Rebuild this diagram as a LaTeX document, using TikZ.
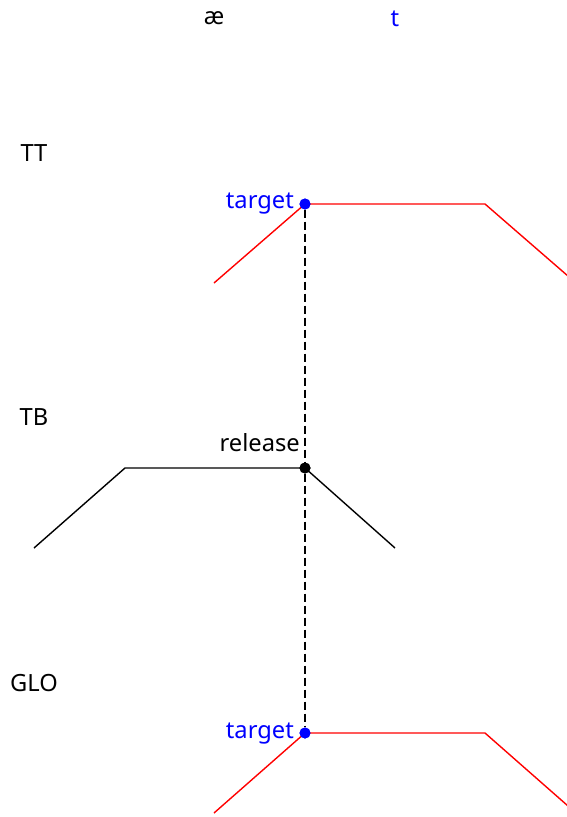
\documentclass[tikz,border=0pt]{standalone}
\usepackage{fontspec}
\setmainfont{Noto Sans}
\begin{document}
\begin{tikzpicture}[x=1pt,y=-1pt,
  lbl/.style={font=\fontsize{23.7}{28}\selectfont, inner sep=0pt},
  redline/.style={red, line width=1.4pt},
  blkline/.style={black, line width=1.4pt},
  dotb/.style={circle, fill=blue, inner sep=0pt, minimum size=11pt},
  dotk/.style={circle, fill=black, inner sep=0pt, minimum size=11pt}]
\useasboundingbox (0,0) rectangle (567,817);
\clip (0,0) rectangle (567,817);
\node[lbl] (ae) at (214,18) {æ};
\node[lbl, text=blue] (tt) at (395,19) {t};
\node[lbl] (TT) at (34,153) {TT};
\node[lbl] (TB) at (34,417) {TB};
\node[lbl] (GLO) at (34,683) {GLO};
% top
\coordinate (a1) at (214,283);
\coordinate (a3) at (485,204);
\coordinate (a4) at (576,283);
\node[dotb] (d1) at (305,204) {};
\draw[redline] (a1) -- (d1.center) -- (a3) -- (a4);
\node[lbl, text=blue, anchor=east] (t1) at (294,204) {target};
% middle
\coordinate (b1) at (34,548);
\coordinate (b2) at (125,468);
\coordinate (b4) at (395,548);
\node[dotk] (d2) at (305,468) {};
\draw[blkline] (b1) -- (b2) -- (d2.center) -- (b4);
\node[lbl, anchor=east] (rel) at (300,443) {release};
% bottom
\coordinate (c1) at (214,813);
\coordinate (c3) at (485,733);
\coordinate (c4) at (576,813);
\node[dotb] (d3) at (305,733) {};
\draw[redline] (c1) -- (d3.center) -- (c3) -- (c4);
\node[lbl, text=blue, anchor=east] (t3) at (294,734) {target};
% dashed
\draw[dash pattern=on 8pt off 4pt, line width=1.3pt] (d1) -- (d2) -- (d3);
\node[dotb] at (305,204) {};
\node[dotk] at (305,468) {};
\node[dotb] at (305,733) {};
\end{tikzpicture}
\end{document}
